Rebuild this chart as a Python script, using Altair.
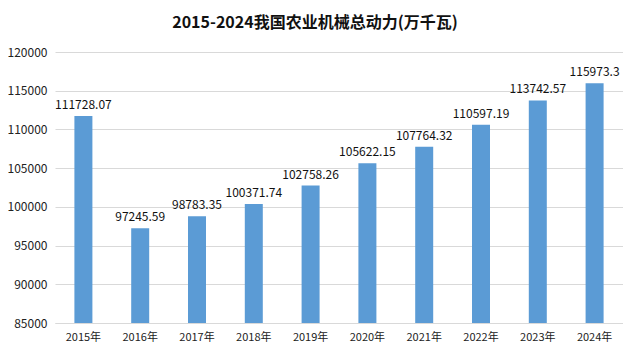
import altair as alt
import pandas as pd

years = ["2015年", "2016年", "2017年", "2018年", "2019年", "2020年", "2021年", "2022年", "2023年", "2024年"]
values = [111728.07, 97245.59, 98783.35, 100371.74, 102758.26, 105622.15, 107764.32, 110597.19, 113742.57, 115973.3]
labels = ["111728.07", "97245.59", "98783.35", "100371.74", "102758.26", "105622.15", "107764.32", "110597.19", "113742.57", "115973.3"]
ticks = [85000, 90000, 95000, 100000, 105000, 110000, 115000, 120000]

df = pd.DataFrame({"year": years, "value": values, "label": labels})
FONT = "Noto Sans CJK SC"

x = alt.X("year:N", sort=years, title=None,
          axis=alt.Axis(labelAngle=0, labelFontSize=11, labelColor="#222222", labelFont=FONT,
                        ticks=False, domainColor="#D9D9D9", labelPadding=8, labelOverlap=False))
y = alt.Y("value:Q", title=None,
          scale=alt.Scale(domain=[85000, 120000], zero=False, nice=False),
          axis=alt.Axis(values=ticks, labelFontSize=12, labelColor="#222222",
                        labelFont=FONT, ticks=False, domain=False, gridColor="#D9D9D9",
                        labelPadding=8, format="d", labelOverlap=False))

bars = alt.Chart(df).mark_bar(color="#5B9BD5", size=18).encode(x=x, y=y, y2=alt.datum(85000))
text = alt.Chart(df).mark_text(dy=-11, fontSize=12, color="#111111", font=FONT).encode(
    x=x, y=y, text="label:N")

chart = (bars + text).properties(
    width=568, height=271,
    title=alt.TitleParams("2015-2024我国农业机械总动力(万千瓦)", font=FONT, fontSize=16,
                          fontWeight="bold", color="#111111", anchor="middle", dx=-24, offset=15),
    padding={"left": 47, "top": 44, "right": 0, "bottom": 26},
    autosize=alt.AutoSizeParams(type="none"),
    background="white",
).configure_view(stroke=None)

chart.save("out.html", embed_options={"renderer": "svg", "actions": False})
